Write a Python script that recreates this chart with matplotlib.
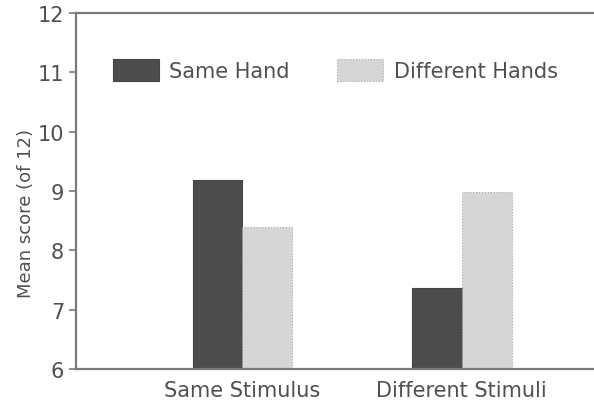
import numpy as np
import matplotlib
matplotlib.use("Agg")
import matplotlib.pyplot as plt

# data
conditions = ["Same Stimulus", "Different Stimuli"]
series_names = ["Same Hand", "Different Hands"]
same_hand = [9.19, 7.37]
different_hands = [8.40, 8.99]
yticks = [6, 7, 8, 9, 10, 11, 12]

text_col = "#505050"
spine_col = "#7a7a7a"

plt.rcParams["font.family"] = ["DejaVu Sans"]

fig = plt.figure(figsize=(5.94, 4.06), dpi=100)
ax = fig.add_axes([0.128, 0.0887, 0.872, 0.8768])

x = np.arange(len(conditions))
w = 0.227
ax.bar(x - w / 2, same_hand, width=w, color="#4c4c4c",
       edgecolor="#444444", linewidth=0.8, label=series_names[0])
ax.bar(x + w / 2, different_hands, width=w, color="#d6d6d6",
       edgecolor="#a8a8a8", linewidth=0.8, linestyle=":", label=series_names[1])

ax.set_ylim(6, 12)
ax.set_xlim(-0.758, 1.603)
ax.set_yticks(yticks)
ax.set_xticks(x)
ax.set_xticklabels(conditions)

for side in ["left", "bottom", "top"]:
    ax.spines[side].set_color(spine_col)
    ax.spines[side].set_linewidth(1.6)
ax.spines["right"].set_visible(False)

ax.tick_params(axis="y", length=5, width=1.2, color=spine_col, pad=3.5,
               labelsize=15, labelcolor=text_col)
ax.tick_params(axis="x", length=0, pad=8, labelsize=15, labelcolor=text_col)

ax.set_ylabel("Mean score (of 12)", fontsize=13, color=text_col)
ax.yaxis.set_label_coords(-0.08, 0.44)

ax.legend(loc="upper left", bbox_to_anchor=(0.071, 0.87), ncol=2,
          frameon=False, fontsize=15, labelcolor=text_col,
          handlelength=2.2, handleheight=1.25, handletextpad=0.5,
          columnspacing=2.3, borderaxespad=0, borderpad=0)

fig.savefig("out.png", dpi=100)
